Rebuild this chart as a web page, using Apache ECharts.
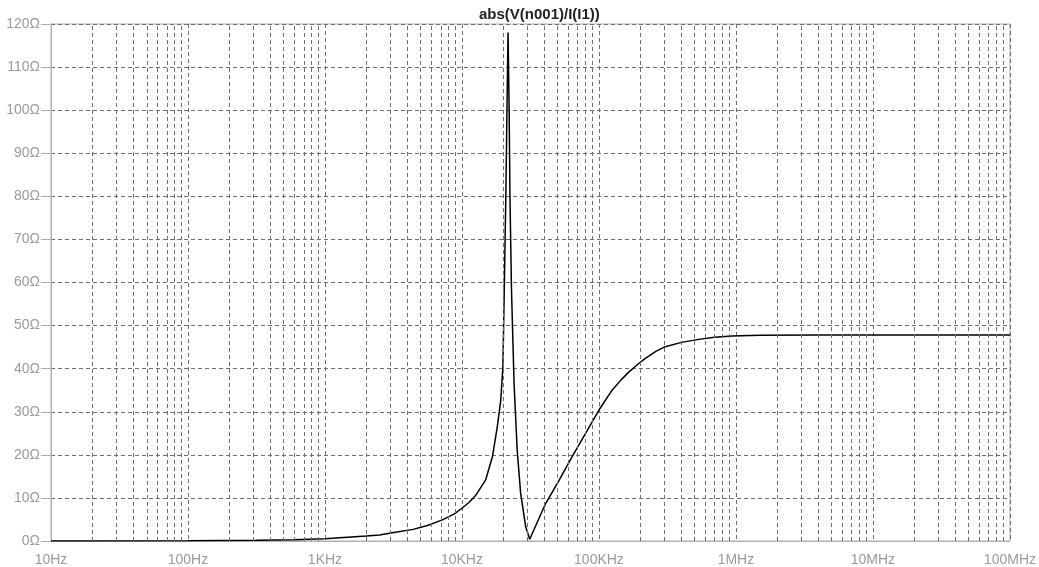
<!DOCTYPE html>
<html>
<head>
<meta charset="utf-8">
<script src="https://cdn.jsdelivr.net/npm/echarts@6/dist/echarts.min.js"></script>
<style>
html,body{margin:0;padding:0;background:#fff;}
#chart{width:1039px;height:567px;}
</style>
</head>
<body>
<div id="chart"></div>
<script>
const chartTitle = 'abs(V(n001)/I(I1))';
const freqHz = [10, 100, 316, 600, 1000, 2000, 2500, 3100, 4400, 5600, 7200, 8800, 10000, 11300, 12600, 14900, 16700, 18100, 19200, 19900, 20300, 20900, 21300, 21700, 22100, 22400, 23000, 24000, 25300, 26800, 29200, 31200, 40800, 51000, 63700, 79800, 100000, 124700, 145000, 165000, 195000, 218300, 260000, 305000, 400000, 534000, 700000, 933000, 1500000, 4000000, 100000000];
const impedance = [0.005, 0.05, 0.16, 0.3, 0.53, 1.16, 1.4, 1.9, 2.7, 3.6, 4.9, 6.3, 7.6, 9.0, 10.6, 14.2, 19.6, 26.5, 32.7, 40.5, 56, 80, 100, 118, 100, 80, 58, 36.6, 21.1, 11.1, 3.3, 0.4, 8.7, 14.0, 19.6, 25, 30.4, 35, 37.4, 39.2, 41.2, 42.4, 44.0, 45.1, 46.1, 46.8, 47.3, 47.6, 47.75, 47.8, 47.8];
const xTickLabels = ['10Hz', '100Hz', '1KHz', '10KHz', '100KHz', '1MHz', '10MHz', '100MHz'];
const decadeStarts = [10, 100, 1000, 10000, 100000, 1000000, 10000000];
const minorMultipliers = [2, 3, 4, 5, 6, 7, 8, 9];

const points = freqHz.map((f, i) => [f, impedance[i]]);
const minorLines = [];
decadeStarts.forEach(d => minorMultipliers.forEach(m => minorLines.push({ xAxis: d * m })));

const gridDash = { color: '#6e6e6e', width: 1, type: [4, 3] };
const labelStyle = { color: '#9a9a9a', fontFamily: 'Liberation Sans, Arial, sans-serif', fontSize: 14 };

const chart = echarts.init(document.getElementById('chart'), null, { renderer: 'canvas' });
chart.setOption({
  animation: false,
  backgroundColor: '#ffffff',
  title: {
    text: chartTitle,
    left: 474,
    top: 2,
    textStyle: { color: '#222', fontSize: 15, fontWeight: 'bold', fontFamily: 'Liberation Sans, Arial, sans-serif' }
  },
  grid: { left: 51, right: 27, top: 24, bottom: 26, show: true, borderColor: '#b0b0b0', borderWidth: 1 },
  xAxis: {
    type: 'log',
    logBase: 10,
    min: 10,
    max: 100000000,
    splitNumber: 7,
    axisLine: { show: true, lineStyle: { color: '#b0b0b0' } },
    axisTick: { show: false },
    axisLabel: Object.assign({
      margin: 12,
      showMinLabel: true,
      showMaxLabel: true,
      formatter: v => xTickLabels[Math.round(Math.log10(v)) - 1]
    }, labelStyle),
    splitLine: { show: true, lineStyle: gridDash }
  },
  yAxis: {
    type: 'value',
    min: 0,
    max: 120,
    interval: 10,
    axisLine: { show: true, lineStyle: { color: '#b0b0b0' } },
    axisTick: { show: true, length: 10, lineStyle: { color: '#b0b0b0' } },
    axisLabel: Object.assign({ margin: 11, formatter: v => v + 'Ω' }, labelStyle),
    splitLine: { show: true, lineStyle: gridDash }
  },
  series: [{
    type: 'line',
    data: points,
    showSymbol: false,
    smooth: false,
    lineStyle: { color: '#000', width: 1.5 },
    markLine: {
      silent: true,
      symbol: ['none', 'none'],
      label: { show: false },
      lineStyle: gridDash,
      emphasis: { disabled: true },
      data: minorLines
    },
    z: 3
  }]
});
</script>
</body>
</html>
